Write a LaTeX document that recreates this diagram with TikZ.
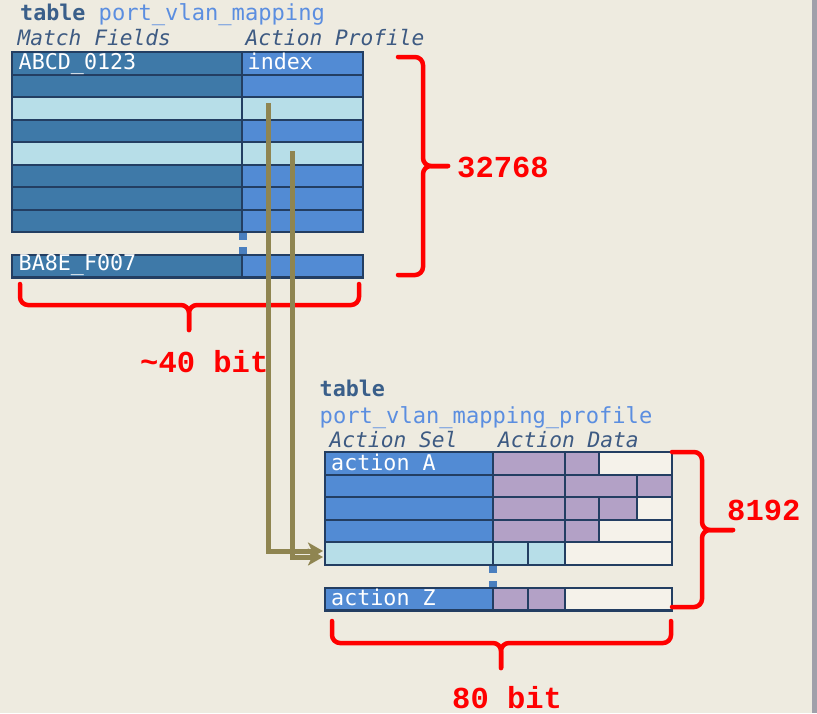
\documentclass[tikz,border=0pt]{standalone}
\usepackage{fontspec}
\newfontfamily\dvm{DejaVu Sans Mono}
\newfontfamily\lmo{Liberation Mono}
\usetikzlibrary{arrows.meta}
\definecolor{bg}{RGB}{238,235,224}
\definecolor{mfblue}{RGB}{62,121,168}
\definecolor{apblue}{RGB}{82,139,212}
\definecolor{lightc}{RGB}{183,222,232}
\definecolor{border}{RGB}{35,62,98}
\definecolor{purp}{RGB}{179,161,198}
\definecolor{cream}{RGB}{245,242,234}
\definecolor{olive}{RGB}{143,133,81}
\definecolor{titleblue}{RGB}{58,95,138}
\definecolor{nameblue}{RGB}{91,142,224}
\definecolor{hdrblue}{RGB}{61,90,130}
\definecolor{dotblue}{RGB}{74,127,191}
\definecolor{stripe}{RGB}{160,160,170}
\tikzset{
  cell/.style={draw=border, line width=2.2pt, rectangle, inner sep=0pt, outer sep=0pt, anchor=north west, minimum height=22.5pt},
  txt/.style={inner sep=0pt, anchor=base west, font=\dvm\fontsize{21.7}{26}\selectfont},
  celltxt/.style={txt, text=white},
  hdr/.style={txt, text=hdrblue, font=\dvm\itshape\fontsize{21.2}{26}\selectfont},
  ttl/.style={txt, text=titleblue, font=\dvm\bfseries\fontsize{21.7}{26}\selectfont},
  tname/.style={txt, text=nameblue, font=\dvm\fontsize{22.1}{26}\selectfont},
  redlabel/.style={inner sep=0pt, anchor=base west, text=red, font=\lmo\bfseries\fontsize{30.5}{32}\selectfont},
  bracepath/.style={draw=red, line width=4.5pt, rounded corners=8pt, line cap=round},
  link/.style={draw=olive, line width=5pt, -{Stealth[length=15pt,width=17pt,inset=4pt]}},
  dotsq/.style={fill=dotblue, inner sep=0pt, outer sep=0pt, minimum width=8pt, minimum height=6.5pt},
}
\begin{document}
\begin{tikzpicture}[x=1pt,y=-1pt]
\useasboundingbox (0,0) rectangle (817,713);
\fill[bg] (0,0) rectangle (817,713);
\fill[stripe] (812,0) rectangle (817,713);

% top table
\foreach \i/\f/\g in {1/mfblue/apblue,2/mfblue/apblue,3/lightc/lightc,4/mfblue/apblue,5/lightc/lightc,6/mfblue/apblue,7/mfblue/apblue,8/mfblue/apblue}{
  \pgfmathsetmacro\yy{52.3+22.5*(\i-1)}
  \node[cell, fill=\f, minimum width=230pt] (ta\i) at (12.3,\yy) {};
  \node[cell, fill=\g, minimum width=120.7pt] (tb\i) at (242.3,\yy) {};
}
\node[cell, fill=mfblue, minimum width=230pt] (taz) at (12.3,255) {};
\node[cell, fill=apblue, minimum width=120.7pt] (tbz) at (242.3,255) {};
\node[dotsq] (tdot1) at (242.7,236.3) {};
\node[dotsq] (tdot2) at (242.7,250.7) {};

% bottom table
\foreach \i/\f in {1/apblue,2/apblue,3/apblue,4/apblue,5/lightc}{
  \pgfmathsetmacro\yy{452.3+22.5*(\i-1)}
  \node[cell, fill=\f, minimum width=168.3pt] (ba\i) at (324.7,\yy) {};
}
\node[cell, fill=apblue, minimum width=168.3pt] (baz) at (324.7,588) {};
\foreach \r/\x/\w/\c [count=\k] in {
  1/493/72/purp, 1/565/34.3/purp, 1/599.3/73/cream,
  2/493/72/purp, 2/565/71.7/purp, 2/636.7/35.6/purp,
  3/493/72/purp, 3/565/34.3/purp, 3/599.3/37.4/purp, 3/636.7/35.6/cream,
  4/493/72/purp, 4/565/34.3/purp, 4/599.3/73/cream,
  5/493/35.3/lightc, 5/528.3/36.7/lightc, 5/565/107.3/cream}{
  \pgfmathsetmacro\yy{452.3+22.5*(\r-1)}
  \node[cell, fill=\c, minimum width=\w pt] (bd\k) at (\x,\yy) {};
}
\node[cell, fill=purp, minimum width=35.3pt] (bz1) at (493,588) {};
\node[cell, fill=purp, minimum width=36.7pt] (bz2) at (528.3,588) {};
\node[cell, fill=cream, minimum width=107.3pt] (bz3) at (565,588) {};
\node[dotsq] (bdot1) at (493.3,569.7) {};
\node[dotsq] (bdot2) at (493.3,584) {};

% texts
\node[ttl] (t1) at (20,20) {table};
\node[tname] (t1n) at (98.5,20) {port\_vlan\_mapping};
\node[hdr] (h1) at (17.5,45) {Match Fields};
\node[hdr] (h2) at (245.5,45) {Action Profile};
\node[celltxt] (c1) at (18.5,69) {ABCD\_0123};
\node[celltxt] (c2) at (247.5,69) {index};
\node[celltxt] (c3) at (18.5,270) {BA8E\_F007};

\node[ttl] (t2) at (319.5,396) {table};
\node[tname] (t2n) at (319.5,423) {port\_vlan\_mapping\_profile};
\node[hdr] (h3) at (329.5,447) {Action Sel};
\node[hdr] (h4) at (498,447) {Action Data};
\node[celltxt] (c4) at (331,470) {action A};
\node[celltxt] (c5) at (331,605) {action Z};

% braces
\draw[bracepath] (398,57) -| (423,166) -- (448,166);
\draw[bracepath] (398,275) -| (423,166) -- (448,166);
\draw[bracepath] (20,284) |- (189,305) -- (189,330);
\draw[bracepath] (359,284) |- (189,305) -- (189,330);
\draw[bracepath] (672,452) -| (702,530) -- (733,530);
\draw[bracepath] (672,607) -| (702,530) -- (733,530);
\draw[bracepath] (332,621) |- (501,643) -- (501,668);
\draw[bracepath] (671,621) |- (501,643) -- (501,668);

\node[redlabel] (l1) at (457,177) {32768};
\node[redlabel] (l2) at (140,372) {\textasciitilde40 bit};
\node[redlabel] (l3) at (727,520) {8192};
\node[redlabel] (l4) at (452,708) {80 bit};

% links
\coordinate (s1) at (268,103);
\coordinate (s2) at (292,151);
\coordinate (e1) at (323,551);
\coordinate (e2) at (323,557);
\draw[link] (s1) |- (e1);
\draw[link] (s2) |- (e2);
\end{tikzpicture}
\end{document}
